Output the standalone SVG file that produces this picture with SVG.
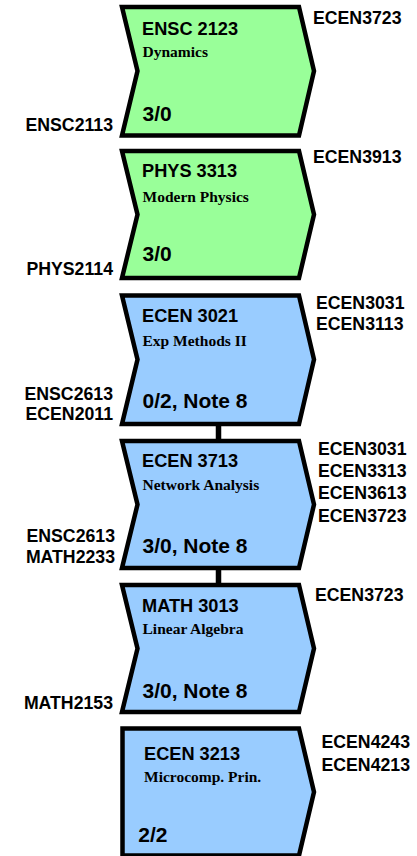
<svg xmlns="http://www.w3.org/2000/svg" width="417" height="856" viewBox="0 0 417 856">
<style>
.box{stroke:#000;stroke-width:4.5;stroke-linejoin:miter}
.g{fill:#99FF99}
.b{fill:#99CCFF}
.t{font-family:"Liberation Sans",Arial,sans-serif;font-weight:bold;font-size:18.2px;fill:#000}
.s{font-family:"Liberation Serif","Times New Roman",serif;font-weight:bold;font-size:15.5px;fill:#000}
.c{font-family:"Liberation Sans",Arial,sans-serif;font-weight:bold;font-size:21px;fill:#000}
.l{font-family:"Liberation Sans",Arial,sans-serif;font-weight:bold;font-size:17.7px;fill:#000}
.r{text-anchor:end}
.conn{stroke:#000;stroke-width:5.5;fill:none}
</style>
<g id="connectors">
<line class="conn" x1="218.5" y1="424" x2="218.5" y2="441"/>
<line class="conn" x1="218.5" y1="568" x2="218.5" y2="585"/>
</g>
<g id="ENSC2123">
<path class="box g" d="M122,7 L299,7 L314,71 L299,135.5 L122,135.5 L137.5,71 Z"/>
<text class="t" x="142" y="35">ENSC 2123</text>
<text class="s" x="142.5" y="57.3">Dynamics</text>
<text class="c" x="142.5" y="120.7">3/0</text>
<text class="l" x="313" y="24">ECEN3723</text>
<text class="l r" x="113" y="130.7">ENSC2113</text>
</g>
<g id="PHYS3313">
<path class="box g" d="M122,151 L299,151 L314,214.5 L299,278 L122,278 L137.5,214.5 Z"/>
<text class="t" x="142" y="177.3">PHYS 3313</text>
<text class="s" x="142.5" y="201.7">Modern Physics</text>
<text class="c" x="142.5" y="260.7">3/0</text>
<text class="l" x="313" y="163.3">ECEN3913</text>
<text class="l r" x="113" y="275">PHYS2114</text>
</g>
<g id="ECEN3021">
<path class="box b" d="M122,295.5 L299,295.5 L314,359.5 L299,424 L122,424 L137.5,359.5 Z"/>
<text class="t" x="142" y="322.3">ECEN 3021</text>
<text class="s" x="142.5" y="345.7">Exp Methods II</text>
<text class="c" x="142.5" y="408.3">0/2, Note 8</text>
<text class="l" x="316" y="309">ECEN3031</text>
<text class="l" x="316" y="329.5">ECEN3113</text>
<text class="l r" x="113" y="400">ENSC2613</text>
<text class="l r" x="113" y="420">ECEN2011</text>
</g>
<g id="ECEN3713">
<path class="box b" d="M122,441 L299,441 L314,504.5 L299,568 L122,568 L137.5,504.5 Z"/>
<text class="t" x="142" y="466.7">ECEN 3713</text>
<text class="s" x="142.5" y="490">Network Analysis</text>
<text class="c" x="142.5" y="553.3">3/0, Note 8</text>
<text class="l" x="318" y="455">ECEN3031</text>
<text class="l" x="318" y="477">ECEN3313</text>
<text class="l" x="318" y="499.3">ECEN3613</text>
<text class="l" x="318" y="521.7">ECEN3723</text>
<text class="l r" x="115" y="541.7">ENSC2613</text>
<text class="l r" x="115" y="563.3">MATH2233</text>
</g>
<g id="MATH3013">
<path class="box b" d="M122,585 L299,585 L314,648.5 L299,712 L122,712 L137.5,648.5 Z"/>
<text class="t" x="142" y="611.7">MATH 3013</text>
<text class="s" x="142.5" y="634.3">Linear Algebra</text>
<text class="c" x="142.5" y="697.7">3/0, Note 8</text>
<text class="l" x="315" y="601">ECEN3723</text>
<text class="l r" x="113" y="709">MATH2153</text>
</g>
<g id="ECEN3213">
<path class="box b" d="M122.5,728.5 L299,728.5 L314,792 L299,855.5 L122.5,855.5 Z"/>
<text class="t" x="144" y="760">ECEN 3213</text>
<text class="s" x="144" y="781.7">Microcomp. Prin.</text>
<text class="c" x="138.3" y="841.7">2/2</text>
<text class="l" x="321.5" y="748">ECEN4243</text>
<text class="l" x="321.5" y="771">ECEN4213</text>
</g>
</svg>
